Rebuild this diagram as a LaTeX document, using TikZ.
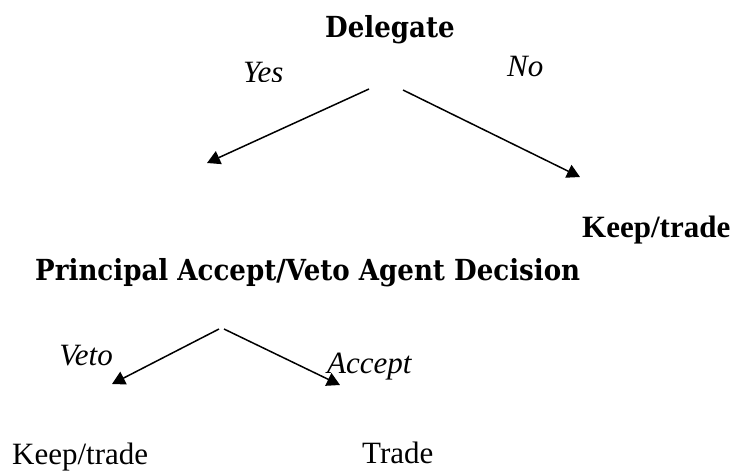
\documentclass[tikz,border=0pt]{standalone}
\usepackage{fontspec}
\setmainfont{Liberation Serif}
\newfontfamily\headfont[FakeStretch=0.9]{DejaVu Serif}
\usetikzlibrary{arrows.meta, positioning}

\tikzset{
  stage/.style={font=\headfont\bfseries\fontsize{29}{33}\selectfont, inner sep=0pt, anchor=base west},
  choice/.style={font=\itshape\fontsize{31}{35}\selectfont, inner sep=0pt, anchor=base west},
  outcome/.style={font=\fontsize{31}{35}\selectfont, inner sep=0pt, anchor=base west},
  branch/.style={-{Triangle[length=13pt,width=14pt]}, line width=1.5pt},
}

\begin{document}
\begin{tikzpicture}[x=1pt, y=-1pt]
      \useasboundingbox (0,0) rectangle (733,472);
      % First stage: delegate or not
      \node[stage] (delegate) at (325,37) {Delegate};
      \begin{scope}
        \clip (230,50) rectangle (300,81);
        \node[choice] (yes) at (243,82) {Yes};
      \end{scope}
      \node[choice] (no) at (507,76) {No};
      \coordinate (dyes) at (369,89);
      \coordinate (dno) at (403,90);
      \coordinate (tyes) at (207,163);
      \coordinate (tno) at (580,177);
      \draw[branch] (dyes) -- (tyes);
      \draw[branch] (dno) -- (tno);
      \node[outcome, font=\bfseries\fontsize{31}{35}\selectfont] (keepA) at (582,237) {Keep/trade};
      % Second stage: principal reviews the agent
      \node[stage] (principal) at (35,280) {Principal Accept/Veto Agent Decision};
      \coordinate (dveto) at (219,329);
      \coordinate (dacc) at (224,329);
      \coordinate (tveto) at (112,384);
      \coordinate (tacc) at (340,385);
      \draw[branch] (dveto) -- (tveto);
      \draw[branch] (dacc) -- (tacc);
      \node[choice, anchor=base east] (veto) at (113,365) {Veto};
      \node[choice] (accept) at (327,373) {Accept};
      % Outcomes
      \node[outcome] (keepB) at (12,464) {Keep/trade};
      \node[outcome] (trade) at (362,463) {Trade};
\end{tikzpicture}
\end{document}
